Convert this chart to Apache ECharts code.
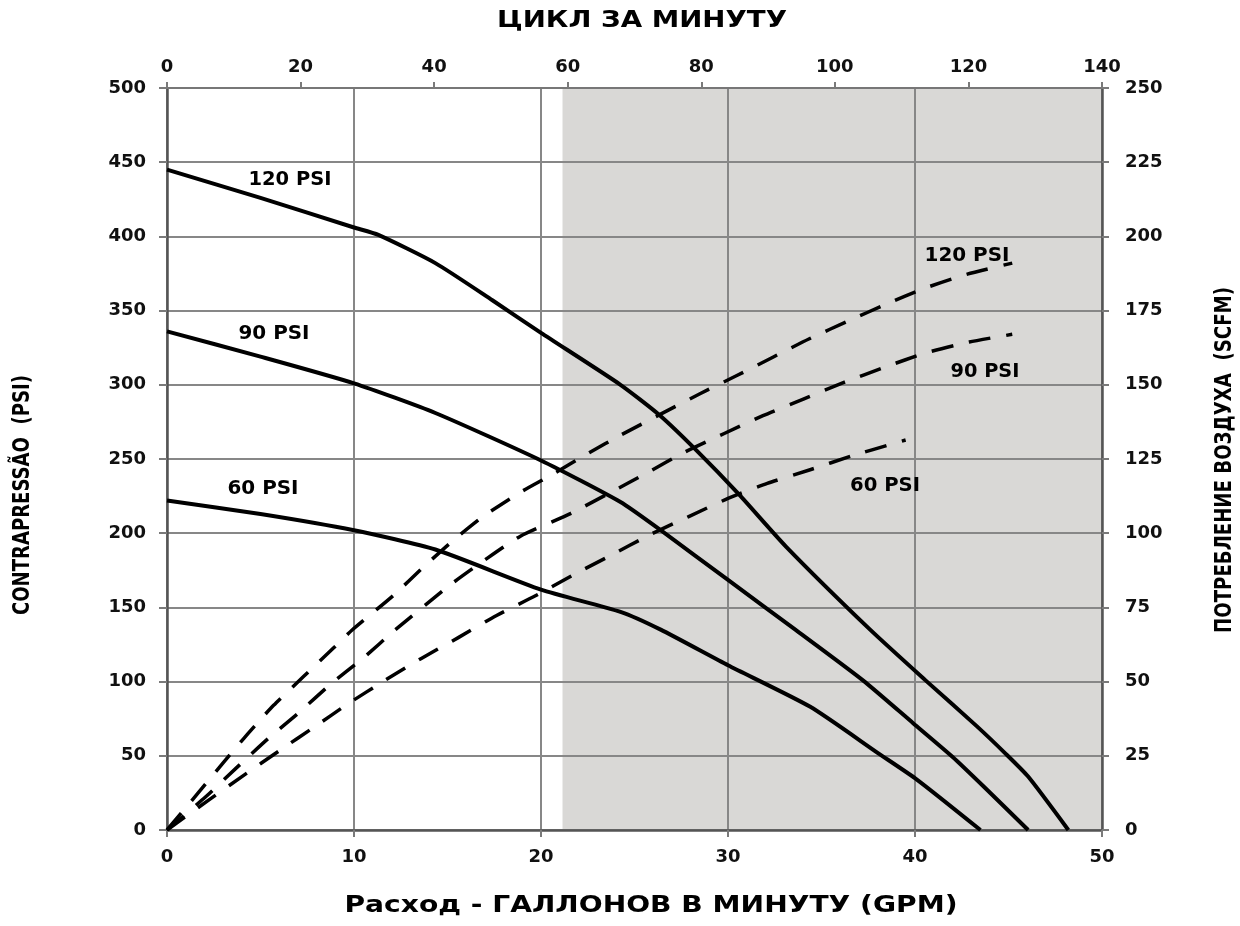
<!DOCTYPE html>
<html>
<head>
<meta charset="utf-8">
<script src="https://cdn.jsdelivr.net/npm/echarts@6/dist/echarts.min.js"></script>
<style>
  html, body { margin: 0; padding: 0; background: #fff; }
  #chart { width: 1240px; height: 926px; }
</style>
</head>
<body>
<div id="chart"></div>
<script>
// Axis tick values
const flowTicks = [0, 10, 20, 30, 40, 50];                       // GPM, bottom
const cycleTicks = [0, 20, 40, 60, 80, 100, 120, 140];           // cycles/min, top
const pressureTicks = [0, 50, 100, 150, 200, 250, 300, 350, 400, 450, 500]; // PSI, left
const airTicks = [0, 25, 50, 75, 100, 125, 150, 175, 200, 225, 250];        // SCFM, right

// Shaded (not recommended) flow range, GPM
const shadedFlow = [21.15, 50];

// Discharge pressure curves [GPM, PSI] at each air inlet pressure
const pressure120 = [[0, 445], [5, 426], [10, 406], [11.3, 401], [14.35, 382], [17.4, 357], [20, 335],
  [24.25, 300], [26.3, 280], [28.3, 256], [30.6, 226], [33.1, 191], [37.6, 135], [40.55, 101],
  [43.3, 70], [44.8, 52], [46.05, 36], [48.2, 0]];
const pressure90 = [[0, 336], [5, 319], [10, 301], [14.35, 281], [20, 249], [24.25, 221], [26.4, 202],
  [30, 168.5], [33.6, 135], [37.2, 101], [39.9, 72], [42, 49.4], [43.7, 29], [46.05, 0]];
const pressure60 = [[0, 222], [5, 213], [10, 202], [14.35, 189], [20, 162], [24.25, 147], [26.4, 135],
  [30, 111], [34.4, 83], [38, 52], [40.1, 34], [43.5, 0]];

// Air consumption curves [GPM, SCFM]
const air120 = [[0, 0], [1.6, 12], [3, 22.6], [4.4, 33], [5.7, 42], [7.3, 51.7], [8.9, 61.3], [9.9, 67.4],
  [12.1, 79], [13.7, 88.5], [15.2, 97], [16.9, 105.6], [18.9, 113.8], [20.5, 119.4], [22.6, 127.2],
  [24.25, 133], [28.5, 147], [30.5, 153.2], [32.4, 159.3], [34.35, 165.5], [36.5, 171.7], [38.4, 177],
  [40.55, 182.6], [42.8, 187.3], [45.2, 191]];
const air90 = [[0, 0], [2.07, 11.2], [3.74, 21.1], [5.39, 30.7], [7.1, 39.8], [8.76, 49.2], [10.47, 57.8],
  [12.2, 67.4], [15.13, 82.5], [17, 91], [18.9, 99], [21.6, 106.7], [23.74, 113.8], [25.63, 120.2],
  [27.74, 127.5], [29.8, 133.6], [31.87, 139.6], [34.03, 145.2], [36.2, 150.8], [38.37, 155.9],
  [40.55, 160.7], [42.9, 164.4], [45.2, 167]];
const air60 = [[0, 0], [2.3, 10.4], [4.1, 18.4], [6, 26.7], [7.9, 34.8], [9.7, 42.6], [11.7, 50.6],
  [13.6, 57.8], [15.6, 64.9], [17.6, 72.2], [19.7, 78.9], [21.65, 85.7], [23.7, 92.4], [25.8, 99.4],
  [27.9, 105.6], [30, 111.7], [32.1, 116.8], [34.35, 121.3], [36.6, 126], [38.9, 130.3], [39.5, 131.4]];

// Text strings
const topTitle = 'ЦИКЛ ЗА МИНУТУ';
const bottomTitle = 'Расход - ГАЛЛОНОВ В МИНУТУ (GPM)';
const leftTitle = 'CONTRAPRESSÃO  (PSI)';
const rightTitle = 'ПОТРЕБЛЕНИЕ ВОЗДУХА  (SCFM)';
const curveNames = ['120 PSI', '90 PSI', '60 PSI'];

const FONT = '"DejaVu Sans", "Open Sans", sans-serif';

// Text placement: center x/y, font size, target extent along the text, rotation
const textLayout = [
  { text: topTitle, cx: 642, cy: 21.5, size: 23, len: 290, rot: 0 },
  { text: bottomTitle, cx: 651, cy: 906, size: 23, len: 613, rot: 0 },
  { text: leftTitle, cx: 23.5, cy: 495, size: 23, len: 240, rot: Math.PI / 2 },
  { text: rightTitle, cx: 1225, cy: 460, size: 23, len: 346, rot: Math.PI / 2 },
  { text: curveNames[0], cx: 290, cy: 180, size: 19.5, len: 83, rot: 0 },
  { text: curveNames[1], cx: 274, cy: 334, size: 19.5, len: 71, rot: 0 },
  { text: curveNames[2], cx: 263, cy: 489, size: 19.5, len: 71, rot: 0 },
  { text: curveNames[0], cx: 967, cy: 256, size: 19.5, len: 85, rot: 0 },
  { text: curveNames[1], cx: 985, cy: 372, size: 19.5, len: 69, rot: 0 },
  { text: curveNames[2], cx: 885, cy: 486, size: 19.5, len: 70, rot: 0 }
];

const measureCtx = document.createElement('canvas').getContext('2d');
function textWidth(text, size) {
  measureCtx.font = 'bold ' + size + 'px ' + FONT;
  return measureCtx.measureText(text).width;
}

const graphicTexts = textLayout.map(t => ({
  type: 'text',
  x: t.cx,
  y: t.cy,
  rotation: t.rot,
  scaleX: t.len / textWidth(t.text, t.size),
  scaleY: 1,
  silent: true,
  z: 10,
  style: {
    text: t.text,
    font: 'bold ' + t.size + 'px ' + FONT,
    fill: '#000',
    align: 'center',
    verticalAlign: 'middle'
  }
}));

function valueAxis(ticks, position, extra) {
  return Object.assign({
    type: 'value',
    position: position,
    min: ticks[0],
    max: ticks[ticks.length - 1],
    interval: ticks[1] - ticks[0],
    z: 1,
    axisLine: { show: true, onZero: false, lineStyle: { color: '#555', width: 2.5 } },
    axisTick: { show: true, length: 7, lineStyle: { color: '#7a7a7a', width: 2 } },
    axisLabel: { color: '#111', fontFamily: FONT, fontWeight: 'bold', fontSize: 18, margin: 18 },
    splitLine: { show: false }
  }, extra || {});
}

const gridLine = { show: true, lineStyle: { color: '#878787', width: 2 } };

function curve(data, yAxisIndex, dashed) {
  return {
    type: 'line',
    xAxisIndex: 0,
    yAxisIndex: yAxisIndex,
    data: data,
    symbol: 'none',
    showSymbol: false,
    smooth: 0.2,
    silent: true,
    z: 3,
    lineStyle: {
      color: '#000',
      width: dashed ? 3.5 : 4,
      type: dashed ? [22, 16] : 'solid',
      cap: 'butt',
      join: 'round'
    }
  };
}

const chart = echarts.init(document.getElementById('chart'), null, { renderer: 'canvas' });

chart.setOption({
  animation: false,
  backgroundColor: '#fff',
  grid: { left: 167, right: 138, top: 88, bottom: 96, containLabel: false },
  xAxis: [
    valueAxis(flowTicks, 'bottom', { splitLine: gridLine }),
    valueAxis(cycleTicks, 'top', {
      axisLine: { show: true, onZero: false, lineStyle: { color: '#777', width: 2 } },
      axisTick: { show: true, length: 6, lineStyle: { color: '#7a7a7a', width: 2 } },
      axisLabel: { color: '#111', fontFamily: FONT, fontWeight: 'bold', fontSize: 18, margin: 12 }
    })
  ],
  yAxis: [
    valueAxis(pressureTicks, 'left', {
      splitLine: gridLine,
      axisTick: { show: true, length: 8, lineStyle: { color: '#7a7a7a', width: 2 } },
      axisLabel: { color: '#111', fontFamily: FONT, fontWeight: 'bold', fontSize: 18, margin: 21 }
    }),
    valueAxis(airTicks, 'right', {
      axisLabel: { color: '#111', fontFamily: FONT, fontWeight: 'bold', fontSize: 18, margin: 23 }
    })
  ],
  graphic: { elements: graphicTexts },
  series: [
    {
      type: 'custom',
      xAxisIndex: 0,
      yAxisIndex: 0,
      z: 0,
      silent: true,
      data: [shadedFlow],
      renderItem: function (params, api) {
        const topLeft = api.coord([api.value(0), pressureTicks[pressureTicks.length - 1]]);
        const bottomRight = api.coord([api.value(1), pressureTicks[0]]);
        return {
          type: 'rect',
          shape: {
            x: topLeft[0],
            y: topLeft[1],
            width: bottomRight[0] - topLeft[0],
            height: bottomRight[1] - topLeft[1]
          },
          style: { fill: '#d9d8d6' }
        };
      }
    },
    curve(pressure120, 0, false),
    curve(pressure90, 0, false),
    curve(pressure60, 0, false),
    curve(air120, 1, true),
    curve(air90, 1, true),
    curve(air60, 1, true)
  ]
});
</script>
</body>
</html>
